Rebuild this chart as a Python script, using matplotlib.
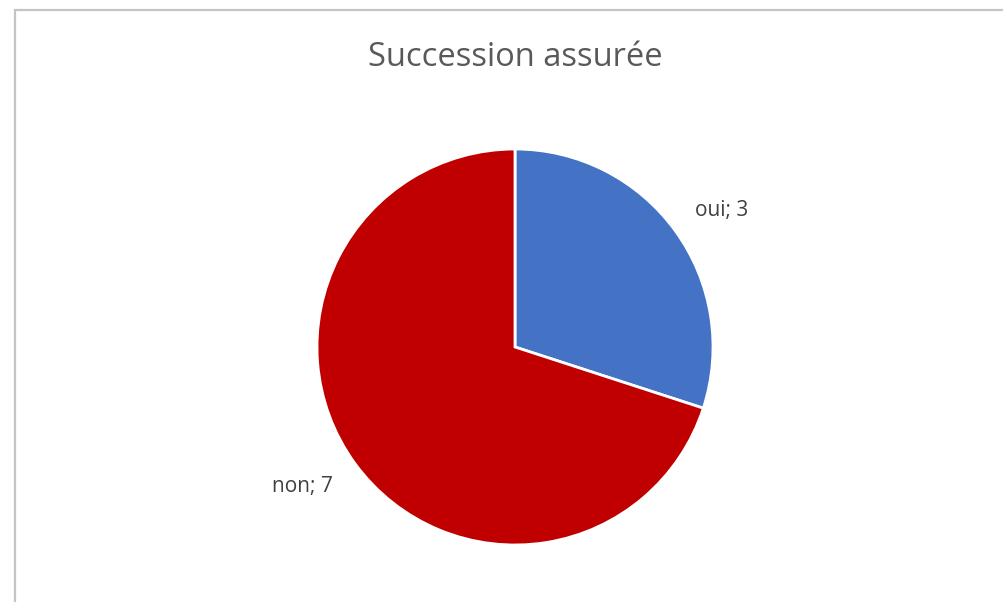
import numpy as np
import matplotlib.pyplot as plt
from matplotlib.patches import Rectangle

labels = ["oui", "non"]
values = [3, 7]
colors = ["#4472C4", "#C00000"]
# label offsets along x / y, in units of the pie radius
label_scale = [(1.29, 1.17), (1.33, 1.20)]

fig = plt.figure(figsize=(10.04, 6.02), dpi=100)
fig.patch.set_facecolor("white")

# light frame around the chart area (runs off the right and bottom edges)
fig.add_artist(Rectangle((15 / 1004, -10 / 602), 1.0, 602 / 602, transform=fig.transFigure,
                         fill=False, edgecolor="#c4c4c4", linewidth=1.6))

ax = fig.add_axes([(515 - 198) / 1004, (602 - 545) / 602, 396 / 1004, 396 / 602])
wedges, _ = ax.pie(values, colors=colors, startangle=90, counterclock=False, radius=1,
                   wedgeprops=dict(edgecolor="white", linewidth=2))
ax.set_xlim(-1, 1)
ax.set_ylim(-1, 1)
ax.set_aspect("equal")
ax.axis("off")

for w, lab, val, (sx, sy) in zip(wedges, labels, values, label_scale):
    ang = np.deg2rad((w.theta1 + w.theta2) / 2)
    ax.text(sx * np.cos(ang), sy * np.sin(ang), f"{lab}; {val}", ha="center", va="center",
            fontsize=15, color="#404040", family=["Open Sans", "DejaVu Sans"], clip_on=False)

fig.text(515 / 1004, 1 - 57 / 602, "Succession assurée", ha="center", va="center",
         fontsize=23.5, color="#595959", family=["Open Sans", "DejaVu Sans"])

fig.savefig("out.png", dpi=100)
